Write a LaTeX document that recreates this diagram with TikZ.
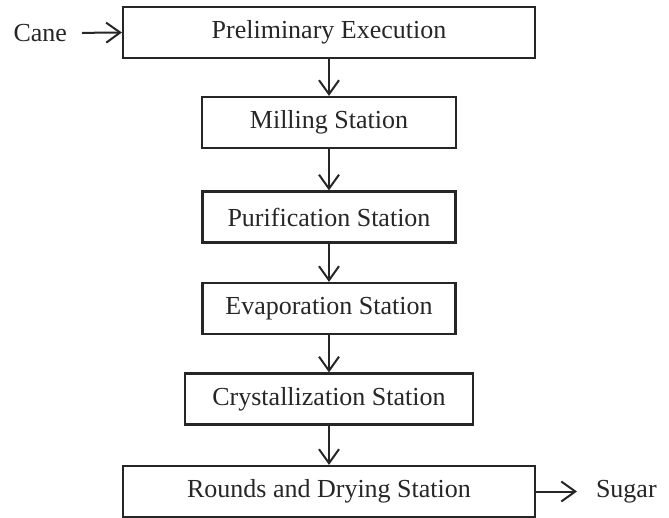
\documentclass[tikz,border=0pt]{standalone}
\usepackage{fontspec}
\setmainfont{Liberation Serif}
\usetikzlibrary{arrows.meta}

\begin{document}
\begin{tikzpicture}[
x=1pt, y=-1pt,
line width=2pt,
every node/.style={font=\fontsize{26}{30}\selectfont, text=black!85},
flow/.style={draw=black!85, -{Straight Barb[length=14pt, width=20pt]}},
stationbox/.style={
rectangle,
draw=black!85,
line width=2.2pt,
minimum height=51pt,
inner sep=0 pt,
}
]
\useasboundingbox (0,0) rectangle (669,518);

% stations
\node [stationbox, minimum width=412pt] at (329,32.5) (prelim) {Preliminary Execution};
\node [stationbox, minimum width=254pt] at (329,122.5) (milling) {Milling Station};
\node [stationbox, minimum width=253pt] at (329,217) (purif) {Purification Station};
\node [stationbox, minimum width=253pt] at (329,308.5) (evap) {Evaporation Station};
\node [stationbox, minimum width=288pt] at (329,399) (cryst) {Crystallization Station};
\node [stationbox, minimum width=412pt] at (329,491.5) (rounds) {Rounds and Drying Station};

% input and output
\node [inner sep=0 pt, anchor=east] at (68,33) (cane) {Cane};
\node [inner sep=0 pt, anchor=west] at (595,491.5) (sugar) {Sugar};

\draw [flow] (prelim) -- (milling);
\draw [flow] (milling) -- (purif);
\draw [flow] (purif) -- (evap);
\draw [flow] (evap) -- (cryst);
\draw [flow] (cryst) -- (rounds);

\draw [flow, shorten <=14pt] (cane.east) -- (prelim.west);
\draw [flow, shorten >=18pt] (rounds.east) -- (sugar.west);

\end{tikzpicture}
\end{document}
